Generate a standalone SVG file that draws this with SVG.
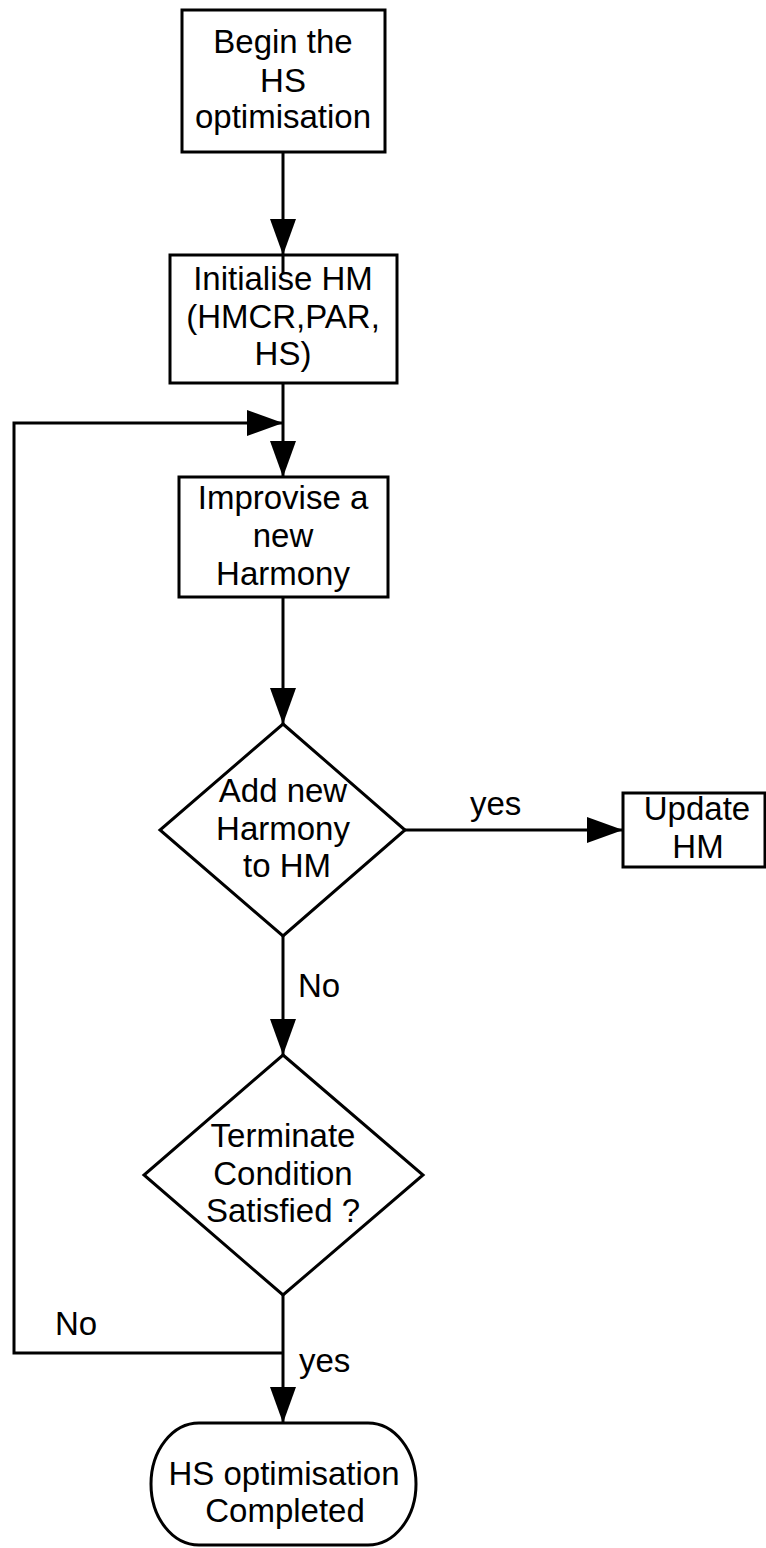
<svg xmlns="http://www.w3.org/2000/svg" width="766" height="1548" viewBox="0 0 766 1548">
<style>
.box{fill:#fff;stroke:#000;stroke-width:3}
.t{font-family:"Liberation Sans",Arial,sans-serif;font-size:33px;fill:#000;text-anchor:middle}
.lb{font-family:"Liberation Sans",Arial,sans-serif;font-size:33px;fill:#000}
.c{fill:none;stroke:#000;stroke-width:3}
.ca{fill:none;stroke:#000;stroke-width:3;marker-end:url(#ah)}
</style>
<defs>
<marker id="ah" markerUnits="userSpaceOnUse" markerWidth="37" markerHeight="28" refX="36" refY="14" orient="auto">
<path d="M0,1 L36,14 L0,27 z" fill="#000"/>
</marker>
</defs>
<rect width="766" height="1548" fill="#fff"/>
<g id="begin">
<rect class="box" x="182" y="10" width="203" height="142"/>
<text class="t" x="283" y="53">Begin the</text>
<text class="t" x="283" y="92">HS</text>
<text class="t" x="283" y="128">optimisation</text>
</g>
<g id="init">
<rect class="box" x="170" y="255" width="227" height="128"/>
<text class="t" x="283" y="290">Initialise HM</text>
<text class="t" x="283" y="328">(HMCR,PAR,</text>
<text class="t" x="283" y="365">HS)</text>
</g>
<g id="improvise">
<rect class="box" x="179" y="477" width="209" height="120"/>
<text class="t" x="283" y="509">Improvise a</text>
<text class="t" x="283" y="547">new</text>
<text class="t" x="283" y="585">Harmony</text>
</g>
<g id="addnew">
<polygon class="box" points="283,724 405,830 283,936 160,830"/>
<text class="t" x="283" y="802">Add new</text>
<text class="t" x="283" y="840">Harmony</text>
<text class="t" x="287" y="877">to HM</text>
</g>
<g id="update">
<rect class="box" x="623" y="793" width="142" height="74"/>
<text class="t" x="697" y="820">Update</text>
<text class="t" x="698" y="858">HM</text>
</g>
<g id="terminate">
<polygon class="box" points="283,1055 423,1175 283,1295 144,1175"/>
<text class="t" x="283" y="1147">Terminate</text>
<text class="t" x="283" y="1185">Condition</text>
<text class="t" x="283" y="1222">Satisfied ?</text>
</g>
<g id="completed">
<rect class="box" x="151" y="1423" width="265" height="122" rx="48" ry="61"/>
<text class="t" x="284" y="1485">HS optimisation</text>
<text class="t" x="285" y="1522">Completed</text>
</g>
<g id="connectors">
<path class="ca" d="M283,152 V255"/>
<path class="c" d="M283,255 V274"/>
<path class="ca" d="M283,383 V477"/>
<path class="ca" d="M283,1353 H14 V423 H283"/>
<path class="ca" d="M283,1295 V1423"/>
<path class="ca" d="M283,597 V724"/>
<path class="ca" d="M405,830 H623"/>
<path class="ca" d="M283,936 V1055"/>
<text class="lb" x="470" y="815">yes</text>
<text class="lb" x="298" y="997">No</text>
<text class="lb" x="55" y="1335">No</text>
<text class="lb" x="299" y="1372">yes</text>
</g>
</svg>
